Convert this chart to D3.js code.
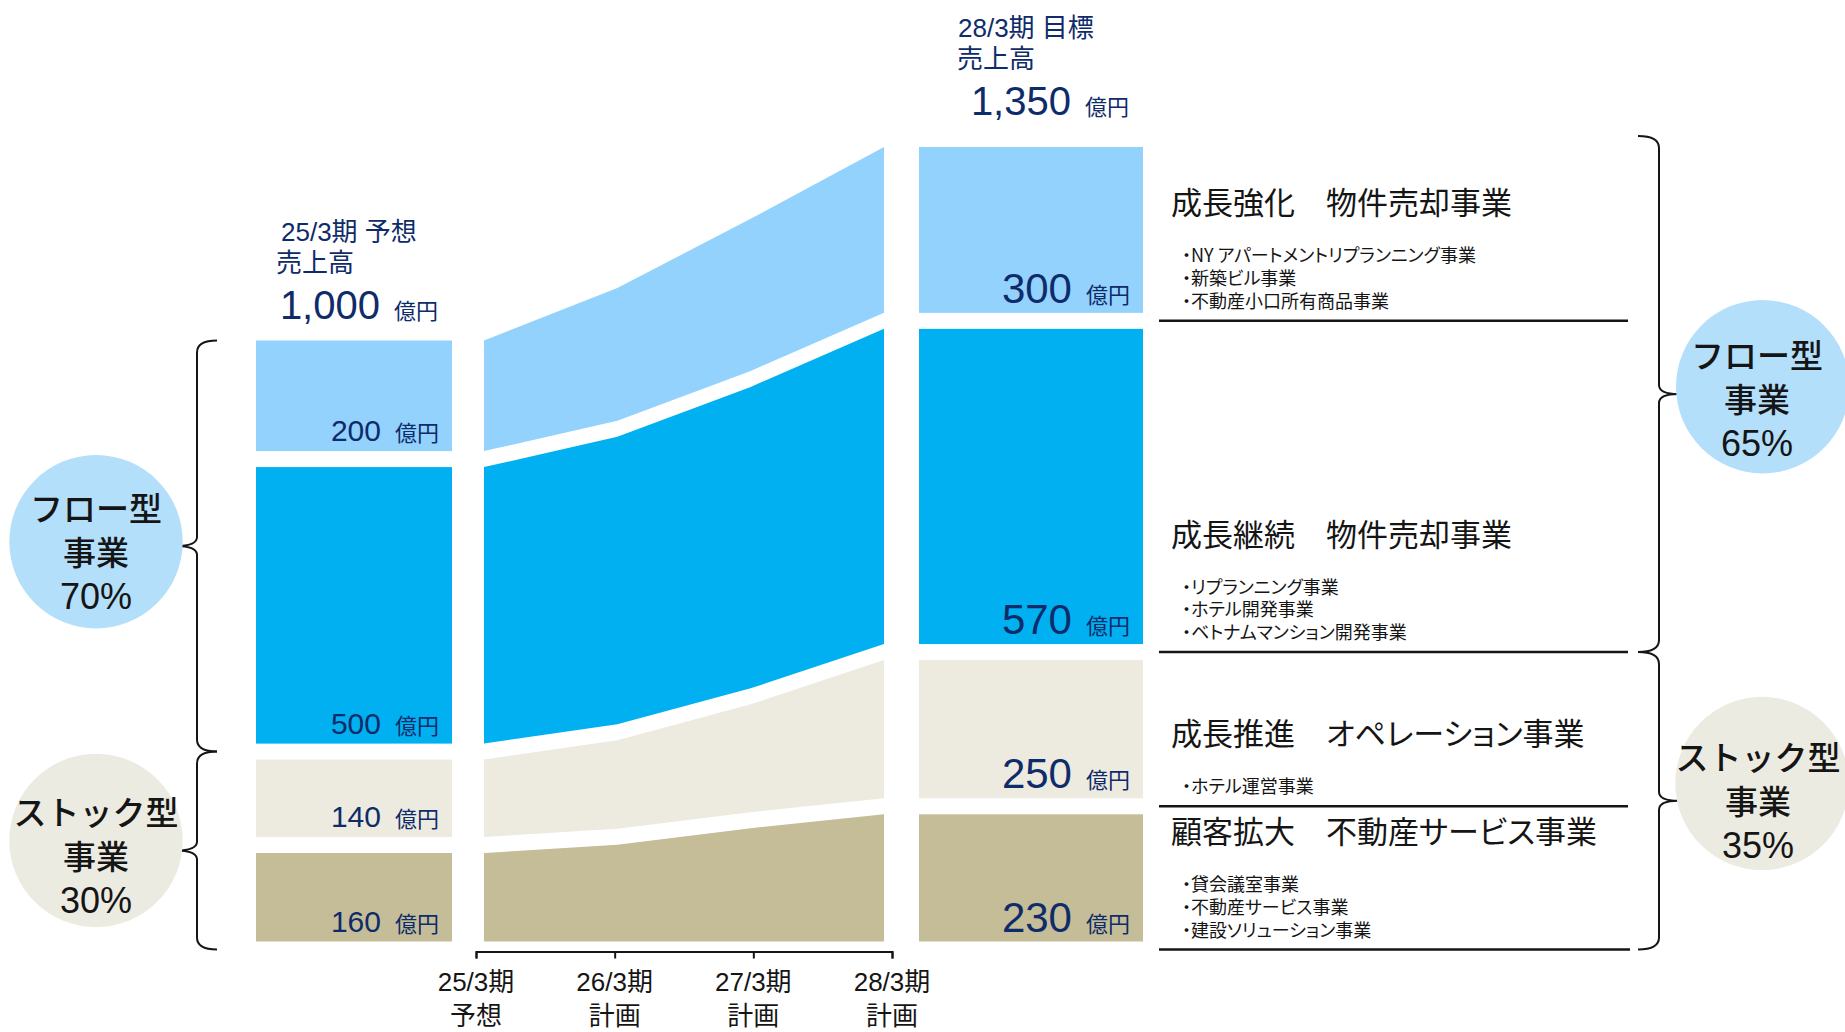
<!DOCTYPE html>
<html><head><meta charset="utf-8">
<script src="https://cdn.jsdelivr.net/npm/d3@7"></script>
<style>
body{margin:0;background:#fff;}
svg{display:block;font-family:"Liberation Sans","Noto Sans CJK JP",sans-serif;}
</style></head><body>
<svg id="chart" width="1845" height="1032"></svg>
<script>
// ---------------- data ----------------
const years = ["25/3期","26/3期","27/3期","28/3期"];
const yearNotes = ["予想","計画","計画","計画"];
// stacked layers, bottom -> top (億円)
const serviceValues   = [160, 175, 205, 230];   // 顧客拡大 不動産サービス事業
const operationValues = [140, 160, 195, 250];   // 成長推進 オペレーション事業
const continueValues  = [500, 520, 545, 570];   // 成長継続 物件売却事業
const strengthValues  = [200, 240, 275, 300];   // 成長強化 物件売却事業
const totalLabels = ["1,000", "1,350"];
const barTitles = [["25/3期 予想","売上高"],["28/3期 目標","売上高"]];
const unitLabel = "億円";
const blockTitles = ["成長強化　物件売却事業","成長継続　物件売却事業","成長推進　オペレーション事業","顧客拡大　不動産サービス事業"];
const blockItems = [
  ["・NY アパートメントリプランニング事業","・新築ビル事業","・不動産小口所有商品事業"],
  ["・リプランニング事業","・ホテル開発事業","・ベトナムマンション開発事業"],
  ["・ホテル運営事業"],
  ["・貸会議室事業","・不動産サービス事業","・建設ソリューション事業"]
];
const groupNames = [["フロー型","事業"],["ストック型","事業"]];
const groupShareStart = ["70%","30%"];
const groupShareTarget = ["65%","35%"];

const layers = [serviceValues, operationValues, continueValues, strengthValues];
const colors = ["#c4bd97","#edebe0","#00b0f0","#92d2fd"];
const circleColors = ["#b3dffb","#ecebe1"];
const navy = "#0f2b69";
const ink = "#151515";

// ---------------- scales ----------------
const svg = d3.select("#chart");
const base = 941.5, gap = 16;
const y = d3.scaleLinear().domain([0, 1350]).range([base, base - 1350 * 0.553]);
const xArea = d3.scalePoint().domain(years).range([484, 884]);
const xAxis = d3.scalePoint().domain(years).range([476, 892]);

// layer geometry at a given year index
function pos(i, j) {
  let cum = 0;
  for (let m = 0; m < i; m++) cum += layers[m][j];
  const bottom = y(cum) - gap * i;
  const top = bottom - (y(0) - y(layers[i][j]));
  return {top, bottom};
}

// ---------------- areas ----------------
const area = d3.area()
  .x((d, j) => xArea(years[j]))
  .y0(d => d.bottom)
  .y1(d => d.top);
layers.forEach((vals, i) => {
  svg.append("path")
    .attr("d", area(vals.map((v, j) => pos(i, j))))
    .attr("fill", colors[i]);
});

// ---------------- bars ----------------
const bars = [{j: 0, x: 256, w: 196, numSize: 30}, {j: 3, x: 919, w: 224, numSize: 42}];
bars.forEach((b, bi) => {
  layers.forEach((vals, i) => {
    const p = pos(i, b.j);
    svg.append("rect").attr("x", b.x).attr("y", p.top)
      .attr("width", b.w).attr("height", p.bottom - p.top).attr("fill", colors[i]);
    const t = svg.append("text").attr("x", b.x + b.w - 13).attr("y", p.bottom - 10)
      .attr("text-anchor", "end").attr("fill", navy);
    t.append("tspan").attr("font-size", b.numSize).text(vals[b.j]);
    t.append("tspan").attr("font-size", 22).attr("dx", 14).text(unitLabel);
  });
  const top = pos(3, b.j).top;
  const tx = bi === 0 ? [281, 276] : [958, 957];
  const off = bi === 0 ? 6 : -4;
  svg.append("text").attr("x", tx[0]).attr("y", top - 106 + off).attr("font-size", 26).attr("fill", navy).text(barTitles[bi][0]);
  svg.append("text").attr("x", tx[1]).attr("y", top - 75 + off).attr("font-size", 26).attr("fill", navy).text(barTitles[bi][1]);
  const tt = svg.append("text").attr("x", b.x + b.w - 14).attr("y", top - 28 + off)
    .attr("text-anchor", "end").attr("fill", navy);
  tt.append("tspan").attr("font-size", 40).text(totalLabels[bi]);
  tt.append("tspan").attr("font-size", 22).attr("dx", 14).text(unitLabel);
});

// ---------------- x axis ----------------
const ax = svg.append("g").attr("transform", `translate(0,${951.5})`)
  .call(d3.axisBottom(xAxis).tickSize(7).tickSizeOuter(7).tickFormat(""));
ax.selectAll("path,line").attr("stroke", ink).attr("stroke-width", 2);
years.forEach((yr, j) => {
  svg.append("text").attr("x", xAxis(yr)).attr("y", 991).attr("text-anchor", "middle")
    .attr("font-size", 26).attr("fill", ink).text(yr);
  svg.append("text").attr("x", xAxis(yr)).attr("y", 1025).attr("text-anchor", "middle")
    .attr("font-size", 26).attr("fill", ink).text(yearNotes[j]);
});

// ---------------- right side descriptions ----------------
// blocks ordered top -> bottom, correspond to layers 3,2,1,0
const ruleYs = [];
blockTitles.forEach((title, bi) => {
  const li = 3 - bi;
  const ruleY = pos(li, 3).bottom + gap / 2;
  ruleYs.push(ruleY);
  svg.append("line").attr("x1", 1159).attr("x2", bi === 3 ? 1630 : 1628)
    .attr("y1", ruleY).attr("y2", ruleY).attr("stroke", ink).attr("stroke-width", 2.5);
  const items = blockItems[bi];
  const lastY = ruleY - 13;
  const firstY = lastY - 22.7 * (items.length - 1);
  items.forEach((it, k) => {
    svg.append("text").attr("x", 1182).attr("y", firstY + 22.7 * k)
      .attr("font-size", 18).attr("fill", ink).style("font-family", "'Noto Sans CJK JP',sans-serif")
      .style("font-feature-settings", "'palt'").text(it);
  });
  svg.append("text").attr("x", 1171).attr("y", firstY - 48)
    .attr("font-size", 31).attr("fill", ink).style("font-family", "'Noto Sans CJK JP',sans-serif")
    .style("font-feature-settings", "'palt'").text(title);
});

// ---------------- braces ----------------
function brace(xEnd, xV, xTip, yTop, yBot) {
  const r = 12, rm = 9, yMid = (yTop + yBot) / 2;
  const p = d3.path();
  p.moveTo(xEnd, yTop);
  p.quadraticCurveTo(xV, yTop, xV, yTop + r);
  p.lineTo(xV, yMid - rm);
  p.quadraticCurveTo(xV, yMid, xTip, yMid);
  p.quadraticCurveTo(xV, yMid, xV, yMid + rm);
  p.lineTo(xV, yBot - r);
  p.quadraticCurveTo(xV, yBot, xEnd, yBot);
  svg.append("path").attr("d", p.toString()).attr("fill", "none")
    .attr("stroke", ink).attr("stroke-width", 2);
}
const leftTop = pos(3, 0).top;
const leftSplit = pos(1, 0).top - gap / 2;
brace(217, 197, 176, leftTop, leftSplit);
brace(217, 197, 176, leftSplit, base + 8);
const rightTop = pos(3, 3).top - 11;
brace(1638, 1659, 1678, rightTop, ruleYs[1]);
brace(1638, 1659, 1678, ruleYs[1], ruleYs[3]);

// ---------------- circles ----------------
const circles = [
  {cx: 96, cy: 541.7, g: 0, share: groupShareStart[0], base: 521, tx: 96},
  {cx: 96, cy: 840.5, g: 1, share: groupShareStart[1], base: 825, tx: 96},
  {cx: 1762.7, cy: 386.7, g: 0, share: groupShareTarget[0], base: 368, tx: 1757},
  {cx: 1762, cy: 783.5, g: 1, share: groupShareTarget[1], base: 770, tx: 1758}
];
circles.forEach(c => {
  svg.append("circle").attr("cx", c.cx).attr("cy", c.cy).attr("r", 86.7).attr("fill", circleColors[c.g]);
  const lines = [groupNames[c.g][0], groupNames[c.g][1], c.share];
  lines.forEach((l, k) => {
    svg.append("text").attr("x", c.tx).attr("y", c.base + 44 * k).attr("text-anchor", "middle")
      .attr("font-size", k === 2 ? 36 : 33).attr("font-weight", 500).attr("fill", ink).text(l);
  });
});
</script>
</body></html>
